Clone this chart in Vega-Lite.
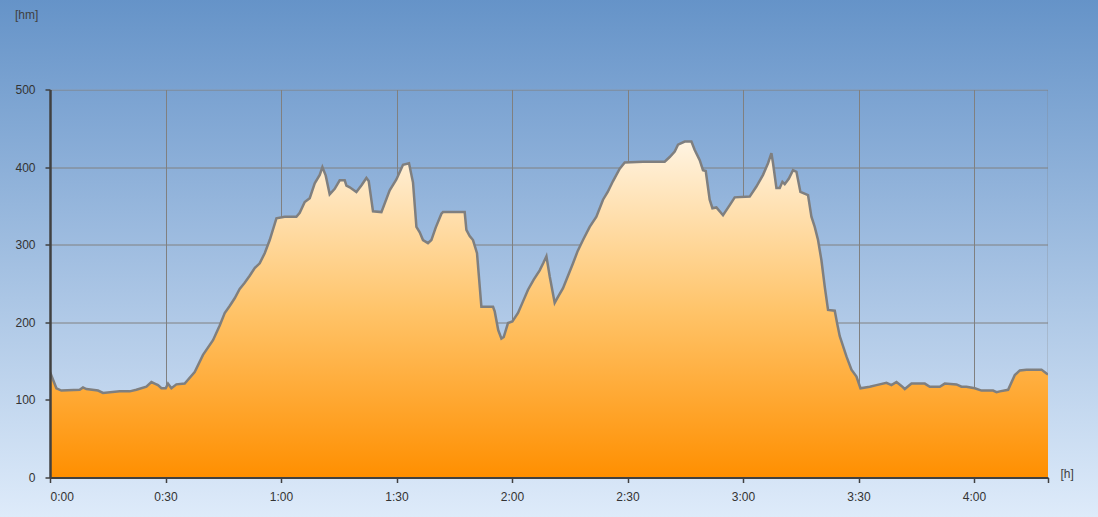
{
  "$schema": "https://vega.github.io/schema/vega-lite/v6.json",
  "width": 998,
  "height": 388,
  "autosize": {"type": "none"},
  "padding": {"left": 50, "top": 89.5, "right": 50, "bottom": 39.5},
  "background": "#9dbde4",
  "config": {
    "view": {
      "stroke": null,
      "fill": {"gradient": "linear", "x1": 0, "y1": 0, "x2": 0, "y2": 1,
        "stops": [{"offset": 0, "color": "#7AA2D1"}, {"offset": 1, "color": "#D5E4F6"}]}
    },
    "font": "Liberation Sans"
  },
  "data": {"values": [
    {"t": 0, "elev": 136}, {"t": 1.66, "elev": 115}, {"t": 2.96, "elev": 112}, {"t": 7.71, "elev": 113},
    {"t": 8.57, "elev": 116}, {"t": 9.45, "elev": 114}, {"t": 12.47, "elev": 112}, {"t": 13.77, "elev": 109},
    {"t": 18.1, "elev": 111}, {"t": 20.7, "elev": 111}, {"t": 22.44, "elev": 113}, {"t": 25.04, "elev": 117},
    {"t": 26.34, "elev": 123}, {"t": 27.2, "elev": 121}, {"t": 28.05, "elev": 119}, {"t": 28.94, "elev": 115},
    {"t": 30.05, "elev": 115}, {"t": 30.65, "elev": 121}, {"t": 31.53, "elev": 115}, {"t": 32.83, "elev": 120},
    {"t": 34.99, "elev": 121}, {"t": 35.84, "elev": 126}, {"t": 37.58, "elev": 136}, {"t": 39.74, "elev": 158},
    {"t": 42.34, "elev": 177}, {"t": 44.08, "elev": 196}, {"t": 45.38, "elev": 212}, {"t": 46.67, "elev": 221},
    {"t": 47.97, "elev": 231}, {"t": 49.27, "elev": 243}, {"t": 50.57, "elev": 251}, {"t": 51.87, "elev": 260},
    {"t": 53.17, "elev": 270}, {"t": 54.47, "elev": 276}, {"t": 55.77, "elev": 289}, {"t": 57.07, "elev": 306},
    {"t": 58.81, "elev": 334}, {"t": 60.96, "elev": 336}, {"t": 64.0, "elev": 336}, {"t": 64.86, "elev": 341},
    {"t": 66.16, "elev": 355}, {"t": 67.46, "elev": 360}, {"t": 68.76, "elev": 379}, {"t": 70.06, "elev": 390},
    {"t": 70.75, "elev": 400}, {"t": 71.62, "elev": 389}, {"t": 72.65, "elev": 365}, {"t": 73.95, "elev": 372},
    {"t": 75.25, "elev": 383}, {"t": 76.55, "elev": 383}, {"t": 76.99, "elev": 376}, {"t": 77.85, "elev": 374},
    {"t": 79.58, "elev": 368}, {"t": 80.96, "elev": 377}, {"t": 82.18, "elev": 386}, {"t": 82.78, "elev": 382},
    {"t": 83.9, "elev": 343}, {"t": 86.08, "elev": 342}, {"t": 88.23, "elev": 370}, {"t": 89.97, "elev": 384},
    {"t": 91.69, "elev": 403}, {"t": 93.25, "elev": 405}, {"t": 94.29, "elev": 380}, {"t": 95.17, "elev": 323},
    {"t": 96.03, "elev": 316}, {"t": 96.88, "elev": 306}, {"t": 98.18, "elev": 302}, {"t": 99.06, "elev": 306},
    {"t": 100.18, "elev": 322}, {"t": 101.66, "elev": 340}, {"t": 102.08, "elev": 342}, {"t": 105.12, "elev": 342},
    {"t": 107.71, "elev": 342}, {"t": 108.15, "elev": 319}, {"t": 109.01, "elev": 311}, {"t": 109.87, "elev": 306},
    {"t": 110.91, "elev": 289}, {"t": 112.05, "elev": 220}, {"t": 115.07, "elev": 220}, {"t": 115.51, "elev": 214},
    {"t": 116.42, "elev": 190}, {"t": 117.25, "elev": 179}, {"t": 117.85, "elev": 181}, {"t": 118.96, "elev": 199},
    {"t": 120.1, "elev": 201}, {"t": 121.56, "elev": 212}, {"t": 122.78, "elev": 226}, {"t": 124.16, "elev": 242},
    {"t": 125.64, "elev": 255}, {"t": 127.19, "elev": 267}, {"t": 128.1, "elev": 276}, {"t": 128.94, "elev": 285},
    {"t": 129.8, "elev": 259}, {"t": 131.09, "elev": 225}, {"t": 131.87, "elev": 232}, {"t": 133.25, "elev": 244},
    {"t": 134.47, "elev": 259}, {"t": 135.85, "elev": 276}, {"t": 137.07, "elev": 292}, {"t": 138.44, "elev": 306},
    {"t": 140.18, "elev": 323}, {"t": 141.92, "elev": 336}, {"t": 143.64, "elev": 358}, {"t": 144.86, "elev": 368},
    {"t": 146.24, "elev": 382}, {"t": 147.98, "elev": 398}, {"t": 149.28, "elev": 406}, {"t": 154.03, "elev": 407},
    {"t": 159.66, "elev": 407}, {"t": 160.96, "elev": 413}, {"t": 162.26, "elev": 420}, {"t": 163.12, "elev": 429},
    {"t": 164.86, "elev": 433}, {"t": 166.6, "elev": 433}, {"t": 167.46, "elev": 422}, {"t": 168.76, "elev": 409},
    {"t": 169.61, "elev": 396}, {"t": 170.32, "elev": 395}, {"t": 171.35, "elev": 358}, {"t": 172.06, "elev": 347},
    {"t": 173.09, "elev": 348}, {"t": 174.81, "elev": 338}, {"t": 176.55, "elev": 351}, {"t": 177.85, "elev": 361},
    {"t": 181.74, "elev": 362}, {"t": 183.48, "elev": 375}, {"t": 185.2, "elev": 390}, {"t": 186.5, "elev": 405},
    {"t": 187.38, "elev": 418}, {"t": 187.8, "elev": 405}, {"t": 188.68, "elev": 373}, {"t": 189.54, "elev": 373},
    {"t": 190.24, "elev": 381}, {"t": 190.84, "elev": 378}, {"t": 191.88, "elev": 385}, {"t": 192.99, "elev": 396},
    {"t": 193.88, "elev": 394}, {"t": 194.91, "elev": 368}, {"t": 196.89, "elev": 364}, {"t": 197.77, "elev": 336},
    {"t": 198.63, "elev": 323}, {"t": 199.49, "elev": 306}, {"t": 200.37, "elev": 280}, {"t": 201.23, "elev": 246},
    {"t": 202.09, "elev": 216}, {"t": 203.83, "elev": 215}, {"t": 204.43, "elev": 199}, {"t": 205.13, "elev": 182},
    {"t": 206.87, "elev": 156}, {"t": 208.17, "elev": 139}, {"t": 209.47, "elev": 130}, {"t": 210.51, "elev": 115},
    {"t": 212.92, "elev": 117}, {"t": 214.66, "elev": 119}, {"t": 217.26, "elev": 122}, {"t": 218.56, "elev": 119},
    {"t": 219.86, "elev": 123}, {"t": 221.16, "elev": 118}, {"t": 222.02, "elev": 114}, {"t": 223.76, "elev": 121},
    {"t": 227.22, "elev": 121}, {"t": 228.52, "elev": 117}, {"t": 231.11, "elev": 117}, {"t": 232.41, "elev": 121},
    {"t": 235.45, "elev": 120}, {"t": 236.75, "elev": 117}, {"t": 238.05, "elev": 117}, {"t": 240.21, "elev": 115},
    {"t": 241.95, "elev": 112}, {"t": 244.96, "elev": 112}, {"t": 245.85, "elev": 110}, {"t": 246.7, "elev": 111},
    {"t": 248.86, "elev": 113}, {"t": 250.6, "elev": 132}, {"t": 251.9, "elev": 138}, {"t": 253.64, "elev": 139},
    {"t": 257.53, "elev": 139}, {"t": 258.83, "elev": 134}, {"t": 259.22, "elev": 133}
  ]},
  "resolve": {"axis": {"x": "independent", "y": "independent"}},
  "layer": [
    {
      "mark": {
        "type": "area",
        "interpolate": "linear",
        "opacity": 1,
        "fillOpacity": 1,
        "color": {"gradient": "linear", "x1": 0, "y1": 0, "x2": 0, "y2": 1,
          "stops": [{"offset": 0, "color": "#FFF4E2"}, {"offset": 0.5, "color": "#FFC46A"}, {"offset": 1, "color": "#FF8F00"}]},
        "line": {"color": "#7F7F7F", "strokeWidth": 2.5}
      },
      "encoding": {
        "x": {"field": "t", "type": "quantitative",
          "scale": {"domain": [0, 259.22], "nice": false, "zero": false},
          "axis": {"orient": "top", "values": [30, 60, 90, 120, 150, 180, 210, 240], "grid": true, "gridColor": "#808080", "gridWidth": 1, "gridOpacity": 1,
            "labels": false, "ticks": false, "domain": false, "title": null, "zindex": 0}},
        "y": {"field": "elev", "type": "quantitative",
          "scale": {"domain": [0, 500], "nice": false},
          "axis": {"orient": "right", "values": [100, 200, 300, 400, 500], "grid": true, "gridColor": "#808080", "gridWidth": 1, "gridOpacity": 1,
            "labels": false, "ticks": false, "domain": true, "domainColor": "#808080", "domainWidth": 1.5, "title": null, "zindex": 0}}
      }
    },
    {
      "data": {"values": [{}]},
      "mark": {"type": "rect",
        "color": {"gradient": "linear", "x1": 0, "y1": 0, "x2": 0, "y2": 1,
          "stops": [{"offset": 0, "color": "#6593C8"}, {"offset": 1, "color": "#DEEBFA"}]}},
      "encoding": {
        "x": {"datum": -13.1, "type": "quantitative",
          "axis": {"orient": "bottom", "values": [0, 30, 60, 90, 120, 150, 180, 210, 240, 259.22],
            "labelExpr": "datum.value > 250 ? '' : floor(datum.value / 60) + ':' + (datum.value % 60 < 10 ? '0' : '') + (datum.value % 60)",
            "grid": false, "domainColor": "#404040", "domainWidth": 2, "tickColor": "#404040", "tickSize": 5, "tickWidth": 1.5,
            "labelFont": "Liberation Sans", "labelFontSize": 12, "labelColor": "#333333", "labelPadding": 9,
            "title": "[h]", "titleX": 1010, "titleY": -4, "titleAlign": "left", "titleBaseline": "middle",
            "titleFont": "Liberation Sans", "titleFontSize": 12, "titleFontWeight": "normal", "titleColor": "#404040", "zindex": 1}},
        "x2": {"datum": 0},
        "y": {"datum": -51.5, "type": "quantitative",
          "axis": {"orient": "left", "values": [0, 100, 200, 300, 400, 500],
            "grid": false, "domainColor": "#404040", "domainWidth": 2.5, "tickColor": "#404040", "tickSize": 5, "tickWidth": 1.5,
            "labelFont": "Liberation Sans", "labelFontSize": 12, "labelColor": "#333333", "labelPadding": 10,
            "title": "[hm]", "titleAngle": 0, "titleX": -35.5, "titleY": -75.5, "titleAlign": "left", "titleBaseline": "middle",
            "titleFont": "Liberation Sans", "titleFontSize": 12, "titleFontWeight": "normal", "titleColor": "#404040", "zindex": 1}},
        "y2": {"datum": 616.5}
      }
    },
    {
      "data": {"values": [{}]},
      "mark": {"type": "rect",
        "color": {"gradient": "linear", "x1": 0, "y1": 0, "x2": 0, "y2": 1,
          "stops": [{"offset": 0, "color": "#6593C8"}, {"offset": 1, "color": "#DEEBFA"}]}},
      "encoding": {
        "x": {"datum": 259.22, "type": "quantitative", "axis": null},
        "x2": {"datum": 272.5},
        "y": {"datum": -51.5, "type": "quantitative", "axis": null},
        "y2": {"datum": 616.5}
      }
    },
    {
      "data": {"values": [{}]},
      "mark": {"type": "rect",
        "color": {"gradient": "linear", "x1": 0, "y1": 0, "x2": 0, "y2": 1,
          "stops": [{"offset": 0, "color": "#6593C8"}, {"offset": 1, "color": "#7AA2D1"}]}},
      "encoding": {
        "x": {"datum": 0, "type": "quantitative", "axis": null},
        "x2": {"datum": 259.22},
        "y": {"datum": 500, "type": "quantitative", "axis": null},
        "y2": {"datum": 616.5}
      }
    },
    {
      "data": {"values": [{}]},
      "mark": {"type": "rect",
        "color": {"gradient": "linear", "x1": 0, "y1": 0, "x2": 0, "y2": 1,
          "stops": [{"offset": 0, "color": "#D5E4F6"}, {"offset": 1, "color": "#DEEBFA"}]}},
      "encoding": {
        "x": {"datum": 0, "type": "quantitative", "axis": null},
        "x2": {"datum": 259.22},
        "y": {"datum": -51.5, "type": "quantitative", "axis": null},
        "y2": {"datum": 0}
      }
    }
  ]
}
